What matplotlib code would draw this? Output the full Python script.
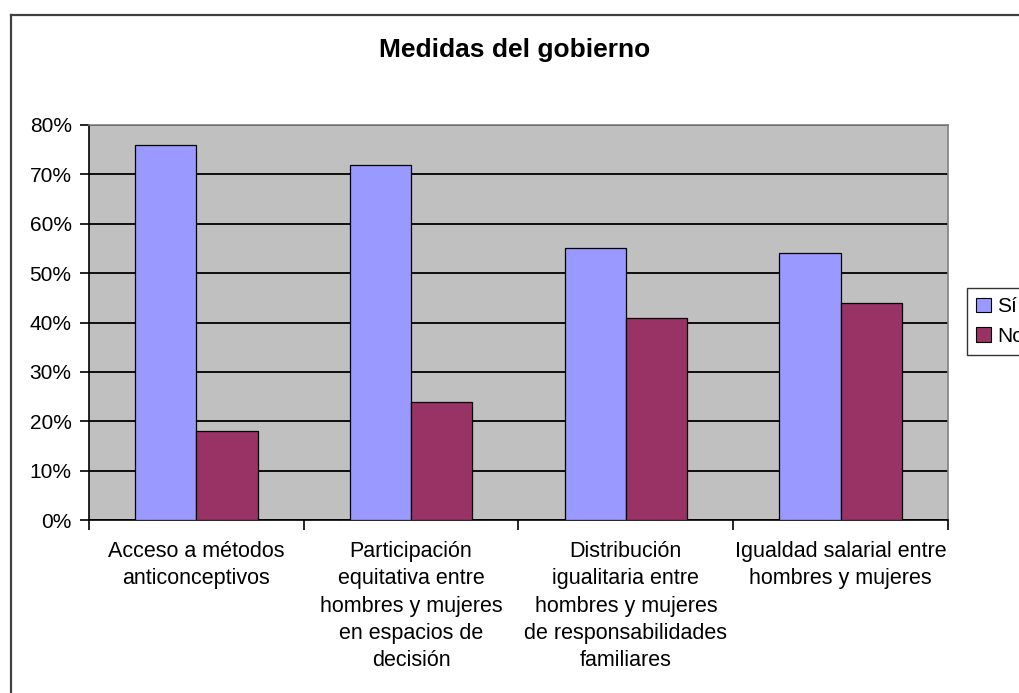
import matplotlib.pyplot as plt
import numpy as np
from matplotlib.lines import Line2D
from matplotlib.patches import Patch

plt.rcParams['font.family'] = ['Liberation Sans', 'DejaVu Sans']

categories = ["Acceso a métodos\nanticonceptivos",
              "Participación\nequitativa entre\nhombres y mujeres\nen espacios de\ndecisión",
              "Distribución\nigualitaria entre\nhombres y mujeres\nde responsabilidades\nfamiliares",
              "Igualdad salarial entre\nhombres y mujeres"]
si = [76, 72, 55, 54]
no = [18, 24, 41, 44]

blue = "#9999FF"
maroon = "#993366"

fig = plt.figure(figsize=(10.2, 6.93), dpi=100)
ax = fig.add_axes([89/1020, 1-520/693, (948-89)/1020, (520-125)/693])
ax.set_facecolor("#C0C0C0")

x = np.arange(len(categories))
w = 1/3.5
ax.bar(x - w/2, si, w, color=blue, edgecolor="black", linewidth=0.9, zorder=3)
ax.bar(x + w/2, no, w, color=maroon, edgecolor="black", linewidth=0.9, zorder=3)

ax.set_xlim(-0.5, len(categories) - 0.5)
ax.set_ylim(0, 80)
ax.set_yticks(range(0, 81, 10))
ax.set_yticklabels([f"{v}%" for v in range(0, 81, 10)], fontsize=15)
ax.yaxis.grid(True, color="black", linewidth=1.3, zorder=1)
ax.set_axisbelow(True)

ax.set_xticks(np.arange(-0.5, len(categories), 1))
ax.set_xticklabels([])
ax.set_xticks(x, minor=True)
ax.set_xticklabels(categories, minor=True, fontsize=15.5, linespacing=1.4)
ax.tick_params(axis='x', which='minor', length=0, pad=15)
ax.tick_params(axis='x', which='major', length=7, width=1.2, direction='out')
ax.tick_params(axis='y', length=6.5, width=1.2, pad=6)

for s in ['left', 'bottom']:
    ax.spines[s].set_color('black')
    ax.spines[s].set_linewidth(1.2)
for s in ['top', 'right']:
    ax.spines[s].set_color('#808080')
    ax.spines[s].set_linewidth(1.2)

fig.text(0.5 + 5/1020, 1 - 50/693, "Medidas del gobierno", fontsize=19,
         fontweight='bold', ha='center', va='center')

handles = [Patch(facecolor=blue, edgecolor='black', linewidth=0.8),
           Patch(facecolor=maroon, edgecolor='black', linewidth=0.8)]
fig.legend(handles, ["Sí", "No"], loc='upper left',
           bbox_to_anchor=(967/1020, 1-288/693), fontsize=15,
           frameon=True, fancybox=False, edgecolor='black',
           handlelength=0.7, handleheight=0.7, handletextpad=0.3,
           borderpad=0.45, labelspacing=0.5, borderaxespad=0)

# outer chart border
fig.add_artist(Line2D([11/1020, 11/1020], [0, 1-15/693], transform=fig.transFigure,
                      color="#404040", linewidth=1.6))
fig.add_artist(Line2D([11/1020, 1], [1-15/693, 1-15/693], transform=fig.transFigure,
                      color="#404040", linewidth=1.6))

fig.savefig("out.png", dpi=100)
